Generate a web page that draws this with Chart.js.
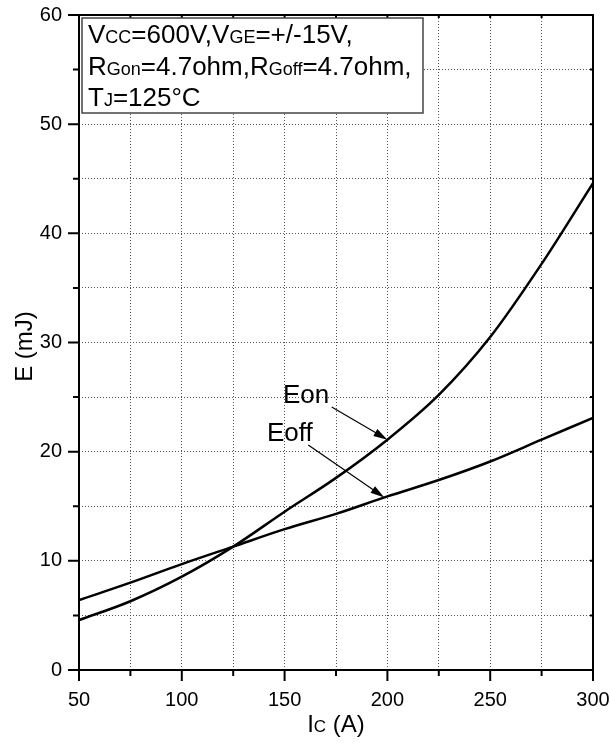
<!DOCTYPE html>
<html>
<head>
<meta charset="utf-8">
<script src="https://cdn.jsdelivr.net/npm/chart.js@4"></script>
<style>
  html, body { margin: 0; padding: 0; background: #fff; }
  #chart { display: block; }
</style>
</head>
<body>
<canvas id="chart" width="610" height="744"></canvas>
<script>
// collector current (A) and switching energies (mJ)
const currentA = [50, 75, 100, 125, 150, 175, 200, 225, 250, 275, 300];
const eonMJ = [4.57, 6.3, 8.55, 11.3, 14.5, 17.6, 21.1, 25.2, 30.5, 37.2, 44.6];
const eoffMJ = [6.4, 8.0, 9.7, 11.3, 12.9, 14.3, 15.9, 17.4, 19.1, 21.1, 23.1];

const xTicks = [50, 100, 150, 200, 250, 300];
const yTicks = [0, 10, 20, 30, 40, 50, 60];

const FONT = "'Liberation Sans', Arial, sans-serif";

// conditions box, each line split into [text, small?] pieces
const noteLines = [
    [['V', false], ['CC', true], ['=600V,V', false], ['GE', true], ['=+/-15V,', false]],
    [['R', false], ['Gon', true], ['=4.7ohm,R', false], ['Goff', true], ['=4.7ohm,', false]],
    [['T', false], ['J', true], ['=125\u00B0C', false]]
];

// curve labels: text position and arrow tip in data units
const curveNotes = [
    { text: 'Eon', x: 149.2, y: 24.5, from: [172.9, 24.1], to: [200, 21.1] },
    { text: 'Eoff', x: 141.4, y: 21.0, from: [161.5, 20.6], to: [198.5, 15.8] }
];

function drawPieces(ctx, pieces, x, y, big, small) {
    pieces.forEach(p => {
        ctx.font = (p[1] ? small : big) + 'px ' + FONT;
        ctx.fillText(p[0], x, y);
        x += ctx.measureText(p[0]).width;
    });
}

const decorPlugin = {
    id: 'decor',
    afterDraw(chart) {
        const ctx = chart.ctx;
        const xs = chart.scales.x, ys = chart.scales.y;
        const a = chart.chartArea;
        ctx.save();

        // tick marks
        ctx.strokeStyle = '#000';
        ctx.lineWidth = 2;
        ctx.beginPath();
        for (let v = 50; v <= 300; v += 25) {
            const px = xs.getPixelForValue(v);
            const len = v % 50 === 0 ? 11 : 6;
            ctx.moveTo(px, a.bottom); ctx.lineTo(px, a.bottom + len);
            ctx.moveTo(px, a.top); ctx.lineTo(px, a.top + 3);
        }
        for (let v = 0; v <= 60; v += 5) {
            const py = ys.getPixelForValue(v);
            const len = v % 10 === 0 ? 11 : 6;
            ctx.moveTo(a.left, py); ctx.lineTo(a.left - len, py);
            ctx.moveTo(a.right, py); ctx.lineTo(a.right - 3, py);
        }
        ctx.stroke();

        // frame
        ctx.lineWidth = 2;
        ctx.strokeRect(a.left, a.top, a.right - a.left, a.bottom - a.top);

        // conditions box
        ctx.fillStyle = '#fff';
        ctx.fillRect(82, 18, 341, 95);
        ctx.strokeStyle = '#444';
        ctx.lineWidth = 1.5;
        ctx.strokeRect(82, 18, 341, 95);
        ctx.fillStyle = '#000';
        ctx.textBaseline = 'alphabetic';
        ctx.textAlign = 'left';
        const baselines = [43, 75, 106];
        noteLines.forEach((line, i) => drawPieces(ctx, line, 88, baselines[i], 26, 18));

        // curve labels with arrows
        curveNotes.forEach(n => {
            ctx.font = '26px ' + FONT;
            ctx.fillText(n.text, xs.getPixelForValue(n.x), ys.getPixelForValue(n.y));
            const x1 = xs.getPixelForValue(n.from[0]), y1 = ys.getPixelForValue(n.from[1]);
            const x2 = xs.getPixelForValue(n.to[0]), y2 = ys.getPixelForValue(n.to[1]);
            const ang = Math.atan2(y2 - y1, x2 - x1);
            ctx.strokeStyle = '#000';
            ctx.lineWidth = 1.2;
            ctx.beginPath();
            ctx.moveTo(x1, y1);
            ctx.lineTo(x2 - 10 * Math.cos(ang), y2 - 10 * Math.sin(ang));
            ctx.stroke();
            ctx.beginPath();
            ctx.moveTo(x2, y2);
            ctx.lineTo(x2 - 14 * Math.cos(ang) + 4 * Math.sin(ang), y2 - 14 * Math.sin(ang) - 4 * Math.cos(ang));
            ctx.lineTo(x2 - 14 * Math.cos(ang) - 4 * Math.sin(ang), y2 - 14 * Math.sin(ang) + 4 * Math.cos(ang));
            ctx.closePath();
            ctx.fill();
        });

        // axis titles with small-cap subscripts
        ctx.textBaseline = 'alphabetic';
        ctx.font = '24px ' + FONT;
        const w1 = ctx.measureText('I').width, w3 = ctx.measureText(' (A)').width;
        ctx.font = '17px ' + FONT;
        const w2 = ctx.measureText('C').width;
        const tx = (a.left + a.right) / 2 - (w1 + w2 + w3) / 2;
        drawPieces(ctx, [['I', false], ['C', true], [' (A)', false]], tx, 732, 24, 17);

        ctx.translate(32, (a.top + a.bottom) / 2 + 4);
        ctx.rotate(-Math.PI / 2);
        ctx.font = '24px ' + FONT;
        ctx.textAlign = 'center';
        ctx.fillText('E (mJ)', 0, 0);
        ctx.restore();
    }
};

const ctx = document.getElementById('chart').getContext('2d');
new Chart(ctx, {
    type: 'line',
    data: {
        datasets: [
            {
                label: 'Eon',
                data: currentA.map((c, i) => ({ x: c, y: eonMJ[i] })),
                borderColor: '#000',
                borderWidth: 2.5,
                pointRadius: 0,
                cubicInterpolationMode: 'monotone',
                fill: false
            },
            {
                label: 'Eoff',
                data: currentA.map((c, i) => ({ x: c, y: eoffMJ[i] })),
                borderColor: '#000',
                borderWidth: 2.5,
                pointRadius: 0,
                cubicInterpolationMode: 'monotone',
                fill: false
            }
        ]
    },
    options: {
        responsive: false,
        animation: false,
        devicePixelRatio: 1,
        layout: { padding: 0 },
        plugins: { legend: { display: false }, tooltip: { enabled: false } },
        scales: {
            x: {
                type: 'linear',
                min: 50,
                max: 300,
                afterFit: s => { s.height = 74; s.paddingRight = 17; s.paddingLeft = 0; },
                afterBuildTicks: s => { s.ticks = []; for (let v = 50; v <= 300; v += 25) s.ticks.push({ value: v }); },
                ticks: {
                    autoSkip: false,
                    maxRotation: 0,
                    padding: 18,
                    color: '#000',
                    font: { family: FONT, size: 20 },
                    callback: v => xTicks.includes(v) ? String(v) : ''
                },
                grid: { color: '#555', lineWidth: 1, drawTicks: false },
                border: { display: false, dash: [1, 2] }
            },
            y: {
                min: 0,
                max: 60,
                afterFit: s => { s.width = 79; s.paddingTop = 15; s.paddingBottom = 0; },
                afterBuildTicks: s => { s.ticks = []; for (let v = 0; v <= 60; v += 5) s.ticks.push({ value: v }); },
                ticks: {
                    autoSkip: false,
                    padding: 17,
                    color: '#000',
                    font: { family: FONT, size: 20 },
                    callback: v => yTicks.includes(v) ? String(v) : ''
                },
                grid: { color: '#555', lineWidth: 1, drawTicks: false },
                border: { display: false, dash: [1, 2] }
            }
        }
    },
    plugins: [decorPlugin]
});
</script>
</body>
</html>
